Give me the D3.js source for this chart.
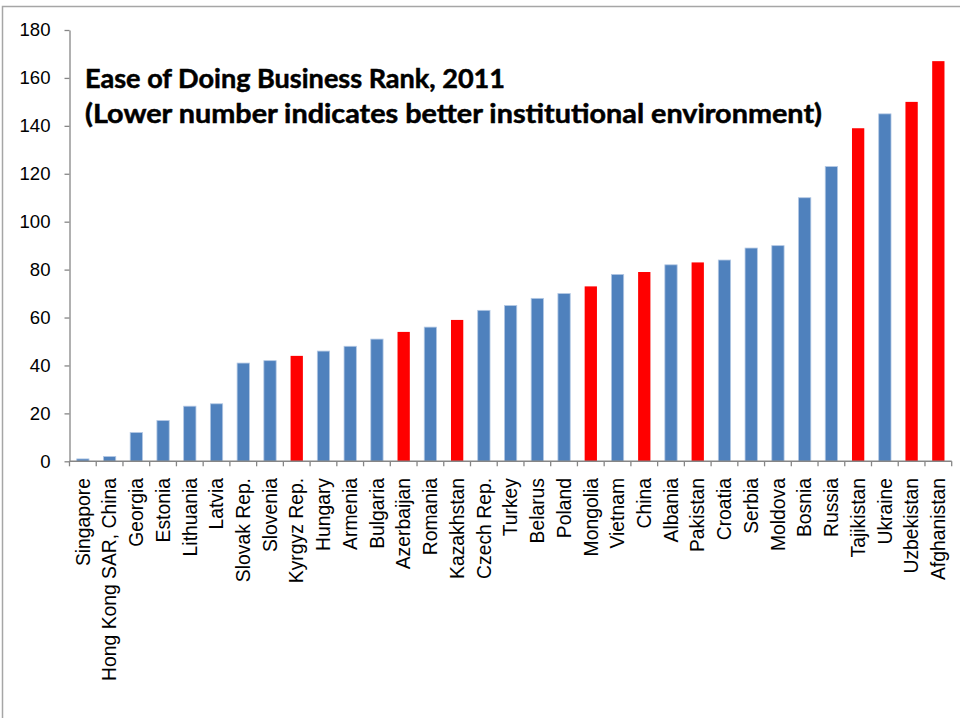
<!DOCTYPE html>
<html>
<head>
<meta charset="utf-8">
<script src="https://cdn.jsdelivr.net/npm/d3@7/dist/d3.min.js"></script>
<style>
  html, body { margin: 0; padding: 0; background: #fff; }
  svg { display: block; }
</style>
</head>
<body>
<svg id="chart" width="960" height="718"></svg>
<script>
// Ease of Doing Business rank, 2011
const countries = [
  "Singapore", "Hong Kong SAR, China", "Georgia", "Estonia", "Lithuania", "Latvia",
  "Slovak Rep.", "Slovenia", "Kyrgyz Rep.", "Hungary", "Armenia", "Bulgaria",
  "Azerbaijan", "Romania", "Kazakhstan", "Czech Rep.", "Turkey", "Belarus",
  "Poland", "Mongolia", "Vietnam", "China", "Albania", "Pakistan", "Croatia",
  "Serbia", "Moldova", "Bosnia", "Russia", "Tajikistan", "Ukraine", "Uzbekistan",
  "Afghanistan"
];
const ranks = [
  1, 2, 12, 17, 23, 24,
  41, 42, 44, 46, 48, 51,
  54, 56, 59, 63, 65, 68,
  70, 73, 78, 79, 82, 83, 84,
  89, 90, 110, 123, 139, 145, 150,
  167
];
// countries shown in red
const highlighted = [
  "Kyrgyz Rep.", "Azerbaijan", "Kazakhstan", "Mongolia", "China",
  "Pakistan", "Tajikistan", "Uzbekistan", "Afghanistan"
];
const yTicks = [0, 20, 40, 60, 80, 100, 120, 140, 160, 180];
const titleLines = [
  "Ease of Doing Business Rank, 2011",
  "(Lower number indicates better institutional  environment)"
];

const data = countries.map((c, i) => ({ country: c, rank: ranks[i] }));

const svg = d3.select("#chart");
const axisColor = "#868686";
const labelFont = "'Liberation Sans', Arial, Helvetica, sans-serif";

// outer frame
svg.append("path")
  .attr("d", "M2.5,718 L2.5,6.5 L960,6.5")
  .attr("fill", "none")
  .attr("stroke", "#a6a6a6")
  .attr("stroke-width", 1.5);

const plotLeft = 69.5, plotRight = 951.7, plotTop = 30, plotBottom = 461.3;

const x = d3.scaleBand()
  .domain(countries)
  .range([plotLeft, plotRight])
  .paddingInner(0.54)
  .paddingOuter(0.27);

const y = d3.scaleLinear()
  .domain([0, 180])
  .range([plotBottom, plotTop]);

// bars
svg.append("g")
  .selectAll("rect")
  .data(data)
  .join("rect")
  .attr("x", d => x(d.country))
  .attr("width", x.bandwidth())
  .attr("y", d => y(d.rank))
  .attr("height", d => y(0) - y(d.rank))
  .attr("fill", d => highlighted.includes(d.country) ? "#ff0000" : "#4f81bd")
  .attr("stroke", d => highlighted.includes(d.country) ? "none" : "#b3c8e4")
  .attr("stroke-width", 0.8);

// font size that gives a string the wanted rendered width
function fitSize(text, width, family, weight) {
  const probe = svg.append("text")
    .style("font-family", family)
    .style("font-weight", weight || "400")
    .style("font-size", "100px")
    .text(text);
  const w = probe.node().getComputedTextLength();
  probe.remove();
  return 100 * width / w;
}
const tickSize = fitSize("180", 31, labelFont);
const catSize = fitSize("Hong Kong SAR, China", 203, labelFont);

// y axis
const yAxis = d3.axisLeft(y)
  .tickValues(yTicks)
  .tickSize(5)
  .tickPadding(14)
  .tickSizeOuter(0);

const gy = svg.append("g")
  .attr("transform", `translate(${plotLeft},0)`)
  .call(yAxis);
gy.select(".domain").attr("stroke", axisColor).attr("stroke-width", 1.3);
gy.selectAll(".tick line").attr("stroke", axisColor).attr("stroke-width", 1.3);
gy.selectAll(".tick text")
  .attr("fill", "#000")
  .style("font-family", labelFont)
  .style("font-size", tickSize + "px");

// x axis: baseline with ticks at category boundaries
const gx = svg.append("g");
gx.append("line")
  .attr("x1", plotLeft).attr("x2", plotRight)
  .attr("y1", y(0)).attr("y2", y(0))
  .attr("stroke", axisColor).attr("stroke-width", 1.5);

const step = x.step();
const boundaries = countries.map(c => x(c) + x.bandwidth() / 2 - step / 2)
  .concat([plotRight]);
gx.selectAll("line.tick")
  .data(boundaries)
  .join("line")
  .attr("class", "tick")
  .attr("x1", d => d).attr("x2", d => d)
  .attr("y1", y(0)).attr("y2", y(0) + 5)
  .attr("stroke", axisColor).attr("stroke-width", 1.3);

// rotated category labels
gx.selectAll("text")
  .data(countries)
  .join("text")
  .attr("transform", d => `translate(${x(d) + x.bandwidth() / 2},478) rotate(-90)`)
  .attr("text-anchor", "end")
  .attr("dy", "0.35em")
  .attr("fill", "#000")
  .style("font-family", labelFont)
  .style("font-size", catSize + "px")
  .text(d => d);

// title
const title = svg.append("g")
  .style("font-family", "Lato, 'Open Sans', sans-serif")
  .style("font-weight", "700")
  .style("font-size", "26px")
  .style("white-space", "pre")
  .attr("fill", "#000")
  .attr("stroke", "#000")
  .attr("stroke-width", 0.5);
const titleWidths = [420, 737];
const titleBaselines = [88, 123];
title.selectAll("text")
  .data(titleLines)
  .join("text")
  .attr("x", 85)
  .attr("y", (d, i) => titleBaselines[i])
  .attr("textLength", (d, i) => titleWidths[i])
  .attr("lengthAdjust", "spacingAndGlyphs")
  .text(d => d);
</script>
</body>
</html>
